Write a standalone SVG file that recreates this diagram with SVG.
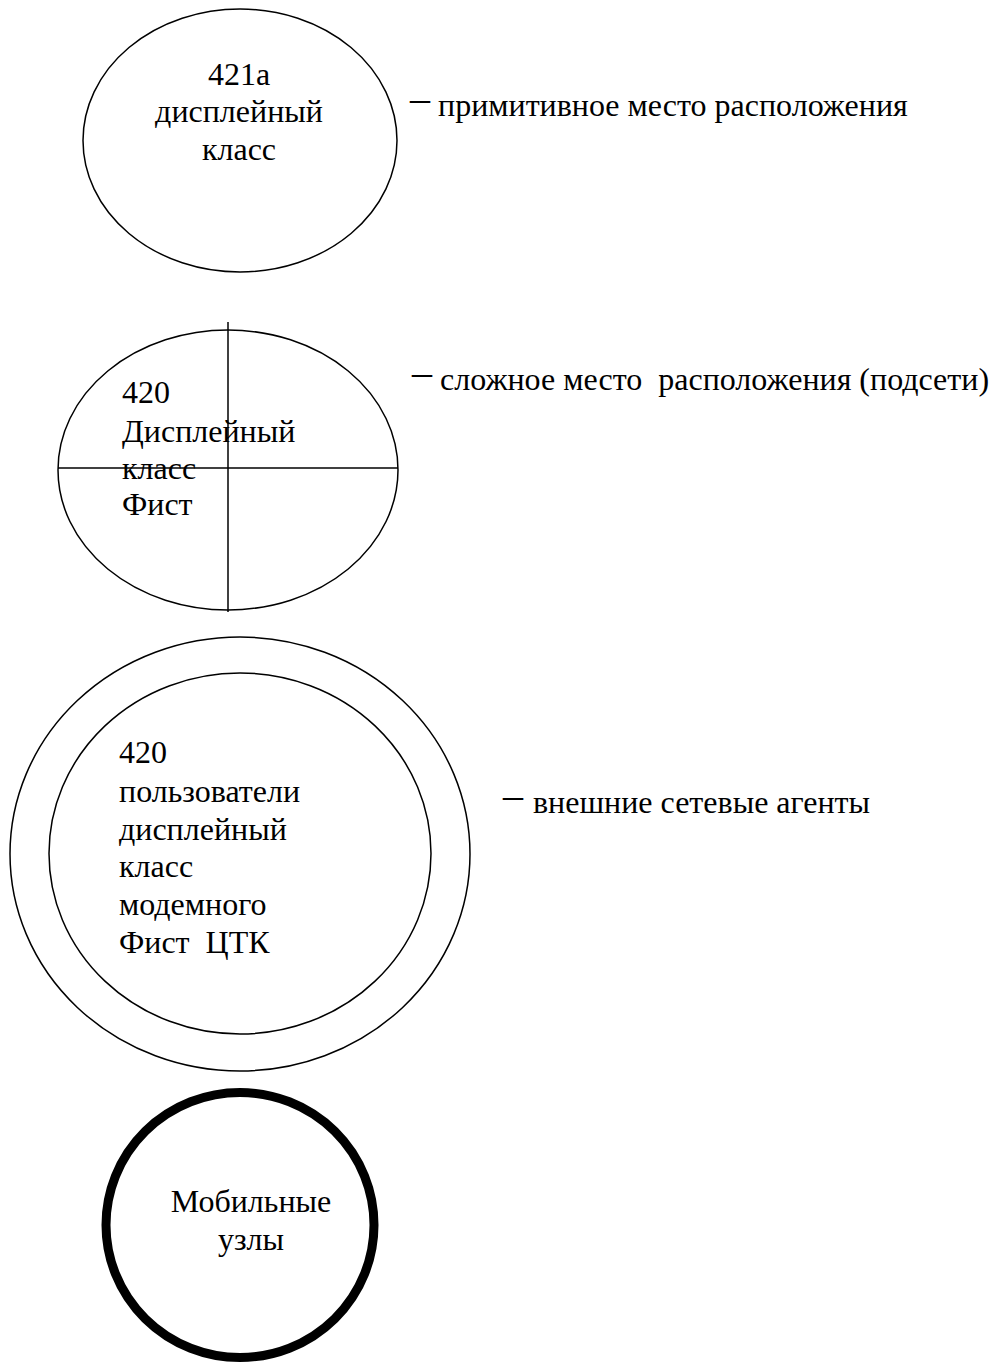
<svg xmlns="http://www.w3.org/2000/svg" width="998" height="1362" viewBox="0 0 998 1362">
  <style>
    .shape { fill: none; stroke: #000; stroke-width: 1.5; }
    .thick { fill: none; stroke: #000; stroke-width: 9; }
    .divider { stroke: #000; stroke-width: 1.5; }
    text { font-family: "Liberation Serif", "Times New Roman", serif; font-size: 32px; fill: #000; }
    .mid { text-anchor: middle; }
    .dash { font-size: 40px; }
  </style>
  <rect width="998" height="1362" fill="#fff"/>

  <!-- primitive location -->
  <g id="node-421a">
    <ellipse class="shape" cx="240" cy="140.5" rx="157" ry="131.5"/>
    <text class="mid" x="239" y="85">421a</text>
    <text class="mid" x="239" y="122">дисплейный</text>
    <text class="mid" x="239" y="160">класс</text>
  </g>
  <g id="legend-primitive">
    <text class="dash" x="410" y="111">–</text>
    <text x="438" y="116">примитивное место расположения</text>
  </g>

  <!-- complex location (subnets) -->
  <g id="node-420-subnets">
    <ellipse class="shape" cx="228" cy="470" rx="170" ry="140"/>
    <line class="divider" x1="228" y1="322" x2="228" y2="612"/>
    <line class="divider" x1="58" y1="468" x2="398" y2="468"/>
    <text x="122" y="403">420</text>
    <text x="122" y="442">Дисплейный</text>
    <text x="122" y="479">класс</text>
    <text x="122" y="515">Фист</text>
  </g>
  <g id="legend-complex">
    <text class="dash" x="412" y="385">–</text>
    <text x="440" y="390" xml:space="preserve">сложное место  расположения (подсети)</text>
  </g>

  <!-- external network agents -->
  <g id="node-420-agents">
    <ellipse class="shape" cx="240" cy="854" rx="230" ry="217"/>
    <ellipse class="shape" cx="240" cy="853.5" rx="191" ry="180.5"/>
    <text x="119" y="763">420</text>
    <text x="119" y="802">пользователи</text>
    <text x="119" y="840">дисплейный</text>
    <text x="119" y="877">класс</text>
    <text x="119" y="915">модемного</text>
    <text x="119" y="953" xml:space="preserve">Фист  ЦТК</text>
  </g>
  <g id="legend-agents">
    <text class="dash" x="503" y="808">–</text>
    <text x="533" y="813">внешние сетевые агенты</text>
  </g>

  <!-- mobile nodes -->
  <g id="node-mobile">
    <ellipse class="thick" cx="240" cy="1225" rx="134" ry="132.5"/>
    <text class="mid" x="251" y="1212">Мобильные</text>
    <text class="mid" x="251" y="1250">узлы</text>
  </g>

  <g id="connectors"/>
</svg>
